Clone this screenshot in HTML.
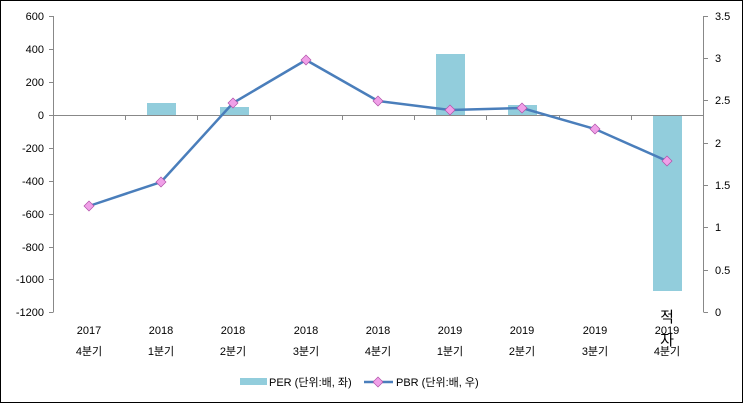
<!DOCTYPE html>
<html><head><meta charset="utf-8"><style>
body{margin:0;background:#fff}
svg{display:block;font-family:"Liberation Sans","Noto Sans CJK KR",sans-serif}
</style></head><body>
<svg width="743" height="403" viewBox="0 0 743 403" xmlns="http://www.w3.org/2000/svg">
<rect x="0.5" y="0.5" width="742" height="402" fill="#fff" stroke="#000"/>
<g fill="#92CDDC">
<rect x="147" y="103" width="29" height="12.5"/>
<rect x="220" y="107" width="29" height="8.5"/>
<rect x="436" y="54" width="29" height="61.5"/>
<rect x="508" y="105" width="29" height="10.5"/>
<rect x="653" y="115.5" width="29" height="175.5"/>
</g>
<g stroke="#888" stroke-width="1" fill="none">
<line x1="53.5" y1="16" x2="53.5" y2="312"/>
<line x1="703.5" y1="16" x2="703.5" y2="312"/>
<line x1="53.5" y1="115.5" x2="703.5" y2="115.5"/>
<path d="M49 16.5H53.5M49 49.5H53.5M49 82.5H53.5M49 115.5H53.5M49 148.5H53.5M49 181.5H53.5M49 214.5H53.5M49 247.5H53.5M49 279.5H53.5M49 312.5H53.5"/>
<path d="M703.5 16.5H708M703.5 58.5H708M703.5 100.5H708M703.5 143.5H708M703.5 185.5H708M703.5 227.5H708M703.5 270.5H708M703.5 312.5H708"/>
<path d="M125.5 115.5V120M197.5 115.5V120M270.5 115.5V120M342.5 115.5V120M414.5 115.5V120M486.5 115.5V120M559.5 115.5V120M631.5 115.5V120M703.5 115.5V120"/>
</g>
<g font-size="11" fill="#000" text-anchor="end">
<text x="44" y="20">600</text><text x="44" y="53">400</text><text x="44" y="86">200</text><text x="44" y="119">0</text>
<text x="44" y="152">-200</text><text x="44" y="185">-400</text><text x="44" y="218">-600</text><text x="44" y="251">-800</text>
<text x="44" y="283">-1000</text><text x="44" y="316">-1200</text>
</g>
<g font-size="11" fill="#000" text-anchor="start">
<text x="715" y="20">3.5</text><text x="715" y="62">3</text><text x="715" y="104">2.5</text><text x="715" y="147">2</text>
<text x="715" y="189">1.5</text><text x="715" y="231">1</text><text x="715" y="274">0.5</text><text x="715" y="316">0</text>
</g>
<g font-size="11" fill="#000" text-anchor="middle">
<text x="89" y="334">2017</text><text x="89" y="355">4분기</text>
<text x="161" y="334">2018</text><text x="161" y="355">1분기</text>
<text x="233" y="334">2018</text><text x="233" y="355">2분기</text>
<text x="306" y="334">2018</text><text x="306" y="355">3분기</text>
<text x="378" y="334">2018</text><text x="378" y="355">4분기</text>
<text x="450" y="334">2019</text><text x="450" y="355">1분기</text>
<text x="522" y="334">2019</text><text x="522" y="355">2분기</text>
<text x="595" y="334">2019</text><text x="595" y="355">3분기</text>
<text x="667" y="334">2019</text><text x="667" y="355">4분기</text>
<text x="667" y="322" font-size="15">적</text>
<text x="667" y="345" font-size="15">자</text>
</g>
<polyline points="89,206 161,182 233,103 306,60 378,101 450,110 522,108 595,129 667,161" fill="none" stroke="#4A7EBB" stroke-width="2.5"/>
<g fill="#F0A0E8" stroke="#B050A8" stroke-width="0.7">
<path d="M89 201l5 5-5 5-5-5z"/><path d="M161 177l5 5-5 5-5-5z"/><path d="M233 98l5 5-5 5-5-5z"/>
<path d="M306 55l5 5-5 5-5-5z"/><path d="M378 96l5 5-5 5-5-5z"/><path d="M450 105l5 5-5 5-5-5z"/>
<path d="M522 103l5 5-5 5-5-5z"/><path d="M595 124l5 5-5 5-5-5z"/><path d="M667 156l5 5-5 5-5-5z"/>
</g>
<rect x="240" y="378" width="27" height="7" fill="#92CDDC"/>
<text x="269" y="386" font-size="11">PER (단위:배, 좌)</text>
<line x1="364" y1="382" x2="393" y2="382" stroke="#4A7EBB" stroke-width="2.5"/>
<path d="M378 377l5 5-5 5-5-5z" fill="#F0A0E8" stroke="#B050A8" stroke-width="0.7"/>
<text x="396" y="386" font-size="11">PBR (단위:배, 우)</text>
</svg>
</body></html>
